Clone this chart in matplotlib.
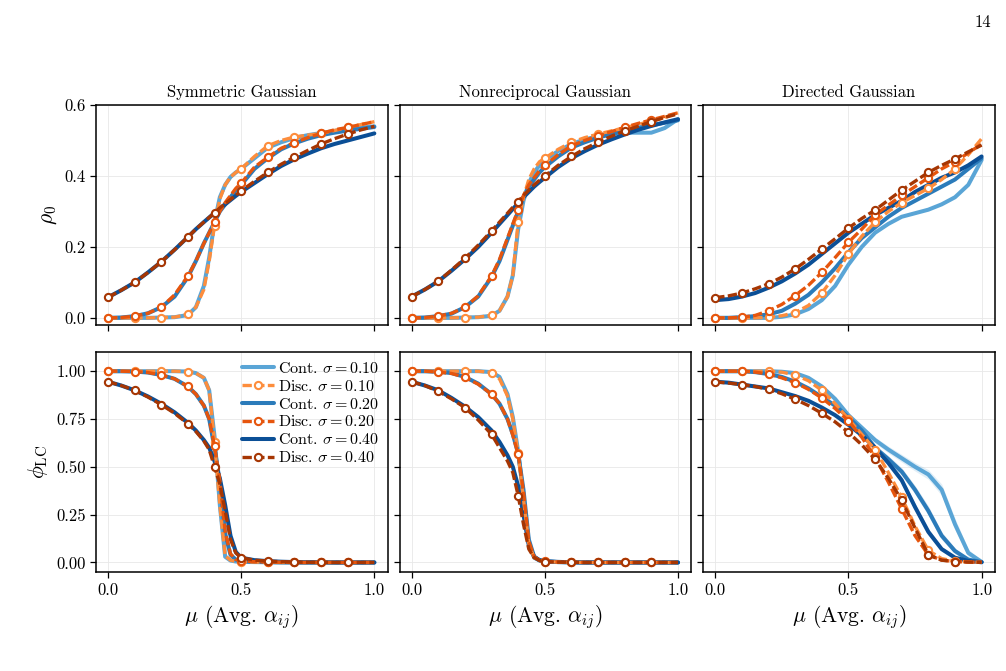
import numpy as np
import matplotlib
matplotlib.use("Agg")
import matplotlib.pyplot as plt

plt.rcParams['font.family'] = 'serif'
plt.rcParams['font.serif'] = ['cmr10']
plt.rcParams['mathtext.fontset'] = 'cm'
plt.rcParams['axes.formatter.use_mathtext'] = True

# mu grids
x_sym = [0, 0.05, 0.1, 0.15, 0.2, 0.25, 0.3, 0.33, 0.36, 0.38, 0.4, 0.42, 0.44, 0.46, 0.48,
         0.5, 0.55, 0.6, 0.65, 0.7, 0.75, 0.8, 0.85, 0.9, 0.95, 1.0]
x_dir = [0, 0.05, 0.1, 0.15, 0.2, 0.25, 0.3, 0.35, 0.4, 0.45, 0.5, 0.55, 0.6, 0.65, 0.7,
         0.75, 0.8, 0.85, 0.9, 0.95, 1.0]

sigmas = ["0.10", "0.20", "0.40"]
titles = ["Symmetric Gaussian", "Nonreciprocal Gaussian", "Directed Gaussian"]

# ---- symmetric, rho_0
sym_rho_cont_01 = [0, 0, 0, 0, 0.001, 0.002, 0.008, 0.03, 0.09, 0.17, 0.27, 0.34, 0.375, 0.397, 0.41,
                   0.42, 0.45, 0.48, 0.495, 0.507, 0.515, 0.521, 0.527, 0.532, 0.536, 0.54]
sym_rho_disc_01 = [0, 0, 0, 0, 0.001, 0.002, 0.01, 0.03, 0.08, 0.16, 0.26, 0.335, 0.375, 0.397, 0.41,
                   0.42, 0.455, 0.485, 0.5, 0.51, 0.515, 0.52, 0.528, 0.537, 0.545, 0.553]
sym_rho_cont_02 = [0, 0.001, 0.005, 0.013, 0.03, 0.06, 0.115, 0.16, 0.21, 0.24, 0.27, 0.3, 0.32, 0.34, 0.36,
                   0.375, 0.42, 0.45, 0.475, 0.492, 0.505, 0.515, 0.522, 0.528, 0.533, 0.538]
sym_rho_disc_02 = [0, 0.001, 0.005, 0.013, 0.03, 0.065, 0.118, 0.16, 0.21, 0.24, 0.27, 0.3, 0.325, 0.345, 0.365,
                   0.38, 0.425, 0.453, 0.478, 0.494, 0.508, 0.52, 0.53, 0.537, 0.545, 0.553]
sym_rho_cont_04 = [0.058, 0.078, 0.1, 0.128, 0.158, 0.192, 0.228, 0.25, 0.27, 0.283, 0.296, 0.308, 0.32, 0.332, 0.344,
                   0.355, 0.38, 0.405, 0.428, 0.447, 0.463, 0.478, 0.49, 0.5, 0.51, 0.52]
sym_rho_disc_04 = [0.058, 0.078, 0.1, 0.128, 0.158, 0.192, 0.228, 0.25, 0.27, 0.283, 0.296, 0.31, 0.322, 0.334, 0.346,
                   0.358, 0.385, 0.41, 0.433, 0.453, 0.472, 0.49, 0.505, 0.518, 0.53, 0.54]

# ---- symmetric, phi_LC
sym_phi_cont_01 = [1, 1, 1, 1, 1, 1, 0.998, 0.99, 0.965, 0.9, 0.66, 0.3, 0.03, 0.01, 0.005,
                   0.003, 0.002, 0.001, 0, 0, 0, 0, 0, 0, 0, 0]
sym_phi_disc_01 = [1, 1, 1, 1, 1, 1, 0.998, 0.99, 0.965, 0.9, 0.63, 0.3, 0.035, 0.012, 0.005,
                   0.003, 0.002, 0.001, 0, 0, 0, 0, 0, 0, 0, 0]
sym_phi_cont_02 = [1, 1, 0.998, 0.993, 0.98, 0.96, 0.92, 0.88, 0.82, 0.75, 0.6, 0.42, 0.15, 0.04, 0.015,
                   0.008, 0.003, 0.002, 0.001, 0, 0, 0, 0, 0, 0, 0]
sym_phi_disc_02 = [1, 1, 0.998, 0.993, 0.98, 0.96, 0.92, 0.88, 0.82, 0.75, 0.61, 0.43, 0.16, 0.045, 0.016,
                   0.008, 0.004, 0.002, 0.001, 0, 0, 0, 0, 0, 0, 0]
sym_phi_cont_04 = [0.945, 0.925, 0.9, 0.868, 0.83, 0.785, 0.73, 0.69, 0.64, 0.6, 0.53, 0.44, 0.3, 0.14, 0.055,
                   0.025, 0.012, 0.007, 0.004, 0.002, 0.001, 0.001, 0, 0, 0, 0]
sym_phi_disc_04 = [0.945, 0.925, 0.9, 0.865, 0.825, 0.78, 0.725, 0.685, 0.635, 0.59, 0.5, 0.41, 0.27, 0.12, 0.05,
                   0.025, 0.012, 0.007, 0.004, 0.002, 0.001, 0.001, 0, 0, 0, 0]

# ---- nonreciprocal, rho_0
nr_rho_cont_01 = [0, 0, 0, 0, 0.001, 0.002, 0.006, 0.02, 0.06, 0.12, 0.25, 0.33, 0.38, 0.41, 0.43,
                  0.445, 0.47, 0.49, 0.503, 0.512, 0.518, 0.522, 0.522, 0.522, 0.535, 0.56]
nr_rho_disc_01 = [0, 0, 0, 0, 0.001, 0.002, 0.007, 0.02, 0.06, 0.12, 0.27, 0.34, 0.39, 0.42, 0.44,
                  0.45, 0.475, 0.495, 0.508, 0.518, 0.527, 0.536, 0.545, 0.555, 0.565, 0.578]
nr_rho_cont_02 = [0, 0.001, 0.005, 0.012, 0.03, 0.06, 0.115, 0.16, 0.22, 0.26, 0.3, 0.34, 0.37, 0.39, 0.41,
                  0.425, 0.455, 0.48, 0.495, 0.508, 0.518, 0.527, 0.536, 0.543, 0.55, 0.557]
nr_rho_disc_02 = [0, 0.001, 0.005, 0.013, 0.03, 0.062, 0.118, 0.165, 0.225, 0.265, 0.305, 0.345, 0.375, 0.395, 0.415,
                  0.43, 0.46, 0.485, 0.5, 0.513, 0.525, 0.537, 0.548, 0.558, 0.568, 0.578]
nr_rho_cont_04 = [0.06, 0.08, 0.103, 0.133, 0.165, 0.2, 0.24, 0.265, 0.29, 0.307, 0.323, 0.34, 0.355, 0.37, 0.383,
                  0.395, 0.425, 0.45, 0.47, 0.488, 0.503, 0.517, 0.53, 0.541, 0.551, 0.56]
nr_rho_disc_04 = [0.06, 0.08, 0.103, 0.135, 0.168, 0.205, 0.245, 0.27, 0.295, 0.312, 0.328, 0.345, 0.36, 0.375, 0.388,
                  0.4, 0.43, 0.455, 0.477, 0.495, 0.512, 0.527, 0.54, 0.553, 0.565, 0.575]

# ---- nonreciprocal, phi_LC
nr_phi_cont_01 = [1, 1, 1, 1, 1, 1, 0.995, 0.97, 0.88, 0.76, 0.58, 0.34, 0.1, 0.025, 0.01,
                  0.005, 0.002, 0.001, 0, 0, 0, 0, 0, 0, 0, 0]
nr_phi_disc_01 = [1, 1, 1, 1, 1, 1, 0.993, 0.96, 0.87, 0.75, 0.57, 0.33, 0.1, 0.025, 0.01,
                  0.005, 0.002, 0.001, 0, 0, 0, 0, 0, 0, 0, 0]
nr_phi_cont_02 = [1, 1, 0.997, 0.99, 0.97, 0.935, 0.88, 0.83, 0.75, 0.67, 0.57, 0.38, 0.12, 0.03, 0.012,
                  0.006, 0.002, 0.001, 0, 0, 0, 0, 0, 0, 0, 0]
nr_phi_disc_02 = [1, 1, 0.995, 0.988, 0.968, 0.932, 0.88, 0.83, 0.75, 0.665, 0.565, 0.37, 0.11, 0.03, 0.012,
                  0.006, 0.002, 0.001, 0, 0, 0, 0, 0, 0, 0, 0]
nr_phi_cont_04 = [0.945, 0.925, 0.9, 0.86, 0.815, 0.76, 0.69, 0.63, 0.56, 0.5, 0.4, 0.25, 0.09, 0.03, 0.012,
                  0.006, 0.003, 0.001, 0, 0, 0, 0, 0, 0, 0, 0]
nr_phi_disc_04 = [0.945, 0.925, 0.895, 0.855, 0.81, 0.745, 0.67, 0.6, 0.53, 0.47, 0.35, 0.2, 0.07, 0.025, 0.01,
                  0.005, 0.002, 0.001, 0, 0, 0, 0, 0, 0, 0, 0]

# ---- directed, rho_0
dir_rho_cont_01 = [0, 0, 0, 0, 0, 0.003, 0.01, 0.025, 0.05, 0.09, 0.15, 0.2, 0.24, 0.265, 0.285,
                   0.295, 0.305, 0.32, 0.34, 0.375, 0.445]
dir_rho_disc_01 = [0, 0, 0, 0, 0.002, 0.006, 0.015, 0.035, 0.07, 0.12, 0.18, 0.23, 0.27, 0.3, 0.325,
                   0.345, 0.365, 0.39, 0.42, 0.46, 0.505]
dir_rho_cont_02 = [0, 0, 0.002, 0.005, 0.01, 0.02, 0.04, 0.065, 0.1, 0.14, 0.185, 0.225, 0.255, 0.285, 0.31,
                   0.33, 0.35, 0.37, 0.39, 0.42, 0.45]
dir_rho_disc_02 = [0, 0, 0.002, 0.007, 0.02, 0.038, 0.063, 0.092, 0.128, 0.17, 0.213, 0.25, 0.29, 0.318, 0.345,
                   0.37, 0.395, 0.42, 0.44, 0.465, 0.49]
dir_rho_cont_04 = [0.05, 0.053, 0.06, 0.07, 0.085, 0.103, 0.125, 0.15, 0.18, 0.21, 0.24, 0.265, 0.29, 0.31, 0.33,
                   0.355, 0.375, 0.395, 0.41, 0.43, 0.455]
dir_rho_disc_04 = [0.057, 0.062, 0.07, 0.082, 0.096, 0.115, 0.138, 0.165, 0.194, 0.223, 0.253, 0.28, 0.304, 0.332, 0.36,
                   0.385, 0.41, 0.43, 0.448, 0.468, 0.487]

# ---- directed, phi_LC
dir_phi_cont_01 = [1, 1, 1, 1, 1, 0.997, 0.99, 0.965, 0.92, 0.855, 0.77, 0.705, 0.64, 0.59, 0.545,
                   0.5, 0.46, 0.38, 0.2, 0.05, 0.003]
dir_phi_disc_01 = [1, 1, 1, 1, 1, 0.995, 0.98, 0.95, 0.9, 0.83, 0.75, 0.67, 0.59, 0.47, 0.34,
                   0.19, 0.063, 0.02, 0.007, 0.003, 0.001]
dir_phi_cont_02 = [1, 1, 1, 0.995, 0.985, 0.97, 0.945, 0.91, 0.865, 0.82, 0.76, 0.69, 0.6, 0.54, 0.475,
                   0.38, 0.27, 0.14, 0.06, 0.015, 0.002]
dir_phi_disc_02 = [1, 1, 1, 0.995, 0.985, 0.965, 0.94, 0.905, 0.86, 0.805, 0.74, 0.655, 0.55, 0.42, 0.28,
                   0.14, 0.04, 0.012, 0.005, 0.002, 0.001]
dir_phi_cont_04 = [0.945, 0.94, 0.93, 0.92, 0.91, 0.89, 0.87, 0.845, 0.81, 0.77, 0.72, 0.665, 0.6, 0.52, 0.43,
                   0.29, 0.16, 0.07, 0.025, 0.008, 0.001]
dir_phi_disc_04 = [0.944, 0.938, 0.93, 0.92, 0.905, 0.882, 0.853, 0.82, 0.78, 0.735, 0.68, 0.615, 0.54, 0.44, 0.325,
                   0.18, 0.04, 0.012, 0.005, 0.002, 0.001]

# spread of the continuous runs (directed, phi_LC)
dir_phi_spread_01 = [0, 0, 0, 0, 0, 0, 0, 0, 0.005, 0.008, 0.01, 0.012, 0.015, 0.018, 0.02,
                     0.022, 0.025, 0.03, 0.03, 0.02, 0.005]
dir_phi_spread_02 = [0, 0, 0, 0, 0, 0, 0, 0, 0.005, 0.008, 0.01, 0.012, 0.015, 0.018, 0.02,
                     0.022, 0.025, 0.02, 0.015, 0.008, 0.002]
dir_phi_spread_04 = [0, 0, 0, 0, 0, 0, 0, 0, 0.004, 0.006, 0.008, 0.01, 0.012, 0.015, 0.018,
                     0.02, 0.018, 0.012, 0.008, 0.004, 0.001]

panels = [
    [(x_sym, [sym_rho_cont_01, sym_rho_cont_02, sym_rho_cont_04], [sym_rho_disc_01, sym_rho_disc_02, sym_rho_disc_04], None),
     (x_sym, [nr_rho_cont_01, nr_rho_cont_02, nr_rho_cont_04], [nr_rho_disc_01, nr_rho_disc_02, nr_rho_disc_04], None),
     (x_dir, [dir_rho_cont_01, dir_rho_cont_02, dir_rho_cont_04], [dir_rho_disc_01, dir_rho_disc_02, dir_rho_disc_04], None)],
    [(x_sym, [sym_phi_cont_01, sym_phi_cont_02, sym_phi_cont_04], [sym_phi_disc_01, sym_phi_disc_02, sym_phi_disc_04], None),
     (x_sym, [nr_phi_cont_01, nr_phi_cont_02, nr_phi_cont_04], [nr_phi_disc_01, nr_phi_disc_02, nr_phi_disc_04], None),
     (x_dir, [dir_phi_cont_01, dir_phi_cont_02, dir_phi_cont_04], [dir_phi_disc_01, dir_phi_disc_02, dir_phi_disc_04],
      [dir_phi_spread_01, dir_phi_spread_02, dir_phi_spread_04])],
]

blues = ["#5aa5d6", "#2b7bba", "#0b4f96"]
oranges = ["#fd8d3c", "#e6550d", "#a63603"]

fig, axes = plt.subplots(2, 3, figsize=(10.06, 6.71), dpi=100, sharex=True, sharey='row')
fig.subplots_adjust(left=0.0954, right=0.989, top=0.8435, bottom=0.1475, wspace=0.041, hspace=0.123)

for r in range(2):
    for c in range(3):
        ax = axes[r, c]
        x, conts, discs, spreads = panels[r][c]
        marks = [i for i, v in enumerate(x) if abs(v * 10 - round(v * 10)) < 1e-9 and v < 0.95]
        for k in range(3):
            if spreads is not None:
                lo = np.array(conts[k]) - np.array(spreads[k])
                hi = np.array(conts[k]) + np.array(spreads[k])
                ax.fill_between(x, lo, hi, color=blues[k], alpha=0.18, lw=0, zorder=1)
            ax.plot(x, conts[k], color=blues[k], lw=2.9, solid_capstyle='round',
                    label=r"Cont. $\sigma = %s$" % sigmas[k], zorder=2)
            ax.plot(x, discs[k], color=oranges[k], lw=2.4, ls=(0, (2.8, 1.0)),
                    marker='o', ms=5.2, mfc='white', mec=oranges[k], mew=1.5, markevery=marks,
                    label=r"Disc. $\sigma = %s$" % sigmas[k], zorder=3)
        ax.grid(True, color='#e8e8e8', lw=0.6)
        ax.set_axisbelow(True)
        ax.tick_params(direction='out', length=4, width=0.9, labelsize=12)
        for s in ax.spines.values():
            s.set_linewidth(1.1)
        if r == 0:
            ax.set_title(titles[c], fontsize=12, pad=6)
        else:
            ax.set_xlabel(r"$\mu$ (Avg. $\alpha_{ij}$)", fontsize=15.5)

axes[0, 0].set_xlim(-0.045, 1.05)
axes[0, 0].set_xticks([0.0, 0.5, 1.0])
axes[0, 0].set_ylim(-0.02, 0.6)
axes[0, 0].set_yticks([0.0, 0.2, 0.4, 0.6])
axes[1, 0].set_ylim(-0.05, 1.1)
axes[1, 0].set_yticks([0.0, 0.25, 0.5, 0.75, 1.0])
axes[1, 0].yaxis.set_major_formatter(matplotlib.ticker.FormatStrFormatter('%.2f'))
axes[0, 0].yaxis.set_major_formatter(matplotlib.ticker.FormatStrFormatter('%.1f'))
for ax in axes[1]:
    ax.xaxis.set_major_formatter(matplotlib.ticker.FormatStrFormatter('%.1f'))

axes[0, 0].set_ylabel(r"$\rho_0$", fontsize=15.5)
axes[1, 0].set_ylabel(r"$\phi_{\rm LC}$", fontsize=15.5)

h, l = axes[1, 0].get_legend_handles_labels()
axes[1, 0].legend(h, l, loc='upper right', frameon=False, fontsize=11.5, handlelength=2.0,
                  handletextpad=0.25, labelspacing=0.18, borderaxespad=0.15)

fig.text(0.985, 0.978, "14", ha='right', va='top', fontsize=12)

fig.savefig("out.png", dpi=100)
